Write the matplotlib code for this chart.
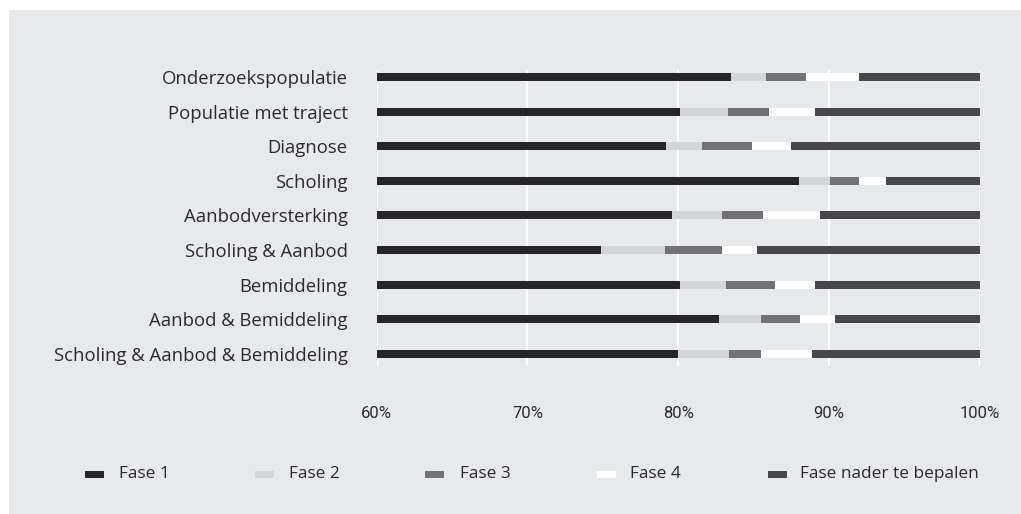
import numpy as np
import matplotlib
matplotlib.use("Agg")
import matplotlib.pyplot as plt
from matplotlib.patches import Rectangle

# categorieën (boven naar beneden)
categories = [
    "Onderzoekspopulatie",
    "Populatie met traject",
    "Diagnose",
    "Scholing",
    "Aanbodversterking",
    "Scholing & Aanbod",
    "Bemiddeling",
    "Aanbod & Bemiddeling",
    "Scholing & Aanbod & Bemiddeling",
]

# aandelen per fase in %
fase1 = [83.5, 80.1, 79.2, 88.0, 79.6, 74.9, 80.1, 82.7, 80.0]
fase2 = [2.3, 3.2, 2.4, 2.1, 3.3, 4.2, 3.1, 2.8, 3.4]
fase3 = [2.7, 2.7, 3.3, 1.9, 2.7, 3.8, 3.2, 2.6, 2.1]
fase4 = [3.5, 3.1, 2.6, 1.8, 3.8, 2.3, 2.7, 2.3, 3.4]
fase_nader = [8.0, 10.9, 12.5, 6.2, 10.6, 14.8, 10.9, 9.6, 11.1]

series_names = ["Fase 1", "Fase 2", "Fase 3", "Fase 4", "Fase nader te bepalen"]
series = [fase1, fase2, fase3, fase4, fase_nader]
colors = ["#262628", "#d4d5d6", "#727175", "#ffffff", "#48474b"]

x_ticks = [60, 70, 80, 90, 100]
x_ticklabels = ["60%", "70%", "80%", "90%", "100%"]

bg = "#e8e9eb"
text_col = "#2b2b2d"
label_font = ["Open Sans", "DejaVu Sans"]
tick_font = ["Liberation Sans Narrow", "Roboto", "DejaVu Sans"]

fig = plt.figure(figsize=(10.21, 5.14), dpi=100)
fig.patch.set_facecolor("white")
fig.add_artist(Rectangle((9 / 1021, 0), 1, 1 - 10 / 514, transform=fig.transFigure,
                         facecolor=bg, edgecolor="none", zorder=-10))

ax = fig.add_axes([376.8 / 1021, 1 - 366 / 514, 602.7 / 1021, 296 / 514])
ax.set_facecolor(bg)

y = np.arange(len(categories))
left = np.zeros(len(categories))
for vals, col, name in zip(series, colors, series_names):
    ax.barh(y, vals, left=left, height=0.23, color=col, edgecolor="none", label=name)
    left += np.array(vals)

ax.set_xlim(60, 100)
ax.set_ylim(8.35, -0.2)
ax.set_xticks(x_ticks)
ax.set_xticklabels(x_ticklabels, family=tick_font, fontsize=12, color=text_col)
ax.set_yticks(y)
ax.set_yticklabels(categories, family=label_font, fontsize=13.3, color=text_col)
ax.tick_params(axis="x", length=0, pad=29)
ax.tick_params(axis="y", length=0, pad=21)
ax.grid(axis="x", color="white", linewidth=1.6)
ax.set_axisbelow(True)
for s in ax.spines.values():
    s.set_visible(False)

# legenda handmatig, gelijk verdeeld
sq_x = [85, 255, 425, 597, 768]
txt_x = [119, 289, 460, 630, 800]
ly = 474
for name, col, sx, tx in zip(series_names, colors, sq_x, txt_x):
    fig.add_artist(Rectangle((sx / 1021, 1 - (ly + 3.5) / 514), 19 / 1021, 7 / 514,
                             transform=fig.transFigure, facecolor=col, edgecolor="none"))
    fig.text(tx / 1021, 1 - ly / 514, name, family=label_font, fontsize=12.4,
             color=text_col, va="center", ha="left")

fig.savefig("out.png", dpi=100, facecolor=fig.get_facecolor())
